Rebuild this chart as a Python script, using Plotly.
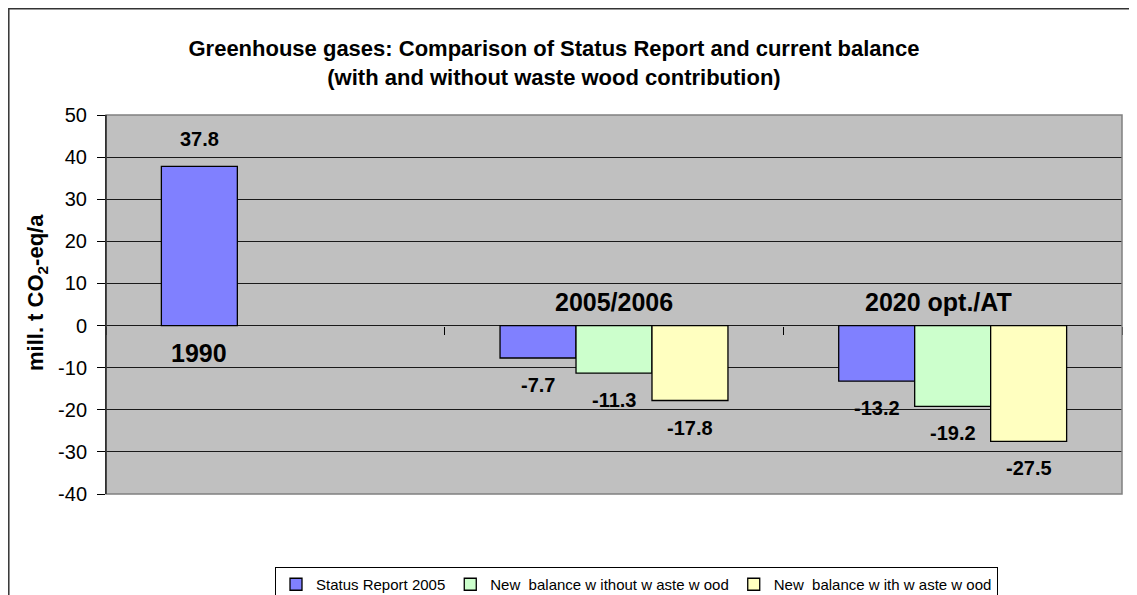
import plotly.graph_objects as go

categories = ["1990", "2005/2006", "2020 opt./AT"]
series_names = ["Status Report 2005", "New  balance w ithout w aste w ood", "New  balance w ith w aste w ood"]
status_report = [37.8, -7.7, -13.2]
without_waste = [None, -11.3, -19.2]
with_waste = [None, -17.8, -27.5]
y_ticks = [50, 40, 30, 20, 10, 0, -10, -20, -30, -40]
y_tick_labels = ["50", "40", "30", "20", "10", "0", "-10", "-20", "-30", "-40"]

colors = ["#8080FF", "#CCFFCC", "#FFFFC0"]
series = [status_report, without_waste, with_waste]

# page offset (browser body margin)
OFF = 8
PAGE_W, PAGE_H = 1137, 595
W, H = PAGE_W - OFF, PAGE_H - OFF
# plot area in page pixels
PX0, PX1, PY0, PY1 = 106, 1122, 115, 494
L, R, T, B = PX0 - OFF, PAGE_W - PX1, PY0 - OFF, PAGE_H - PY1
pw, ph = PX1 - PX0, PY1 - PY0

def px_x(p):
    return (p - PX0) / pw

def px_y(p):
    return (PY1 - p) / ph

def cx(p):
    return (p - OFF) / W

def cy(p):
    return 1 - (p - OFF) / H

FONT = "Liberation Sans, Arial, sans-serif"

fig = go.Figure()
for name, vals, col in zip(series_names, series, colors):
    fig.add_trace(go.Bar(
        x=categories, y=vals, name=name,
        marker=dict(color=col, line=dict(color="black", width=1.3)),
        hoverinfo="skip",
    ))

bar_w = pw / 3 * (1 - 0.327) / 3
offsets = [-bar_w, 0, bar_w]
annotations = []
lab_font = dict(family=FONT, size=20, color="black")
for vals, off in zip(series, offsets):
    for i, v in enumerate(vals):
        if v is None:
            continue
        annotations.append(dict(
            x=i, y=v, xref="x", yref="y", text=f"<b>{v:.1f}</b>",
            showarrow=False, xshift=off, yshift=27 if v > 0 else -27,
            yanchor="middle", font=lab_font,
        ))

cat_font = dict(family=FONT, size=25, color="black")
cat_pos = [(-bar_w, -27), (0, 24), (-14, 24)]
for i, (c, (xs, ys)) in enumerate(zip(categories, cat_pos)):
    annotations.append(dict(
        x=i, y=0, xref="x", yref="y", text=f"<b>{c}</b>",
        showarrow=False, xshift=xs, yshift=ys, yanchor="middle", font=cat_font,
    ))

# y-axis title
annotations.append(dict(
    x=px_x(37), y=px_y(293), xref="paper", yref="paper",
    text="<b>mill. t CO<sub>2</sub>-eq/a</b>", textangle=-90,
    showarrow=False, xanchor="center", yanchor="middle",
    font=dict(family=FONT, size=22, color="black"),
))

fig.update_layout(
    width=W, height=H,
    margin=dict(l=L, r=R, t=T, b=B, autoexpand=False),
    paper_bgcolor="white", plot_bgcolor="#C0C0C0",
    barmode="group", bargap=0.327, bargroupgap=0,
    title=dict(
        text="<b>Greenhouse gases: Comparison of Status Report and current balance<br>(with and without waste wood contribution)</b>",
        x=cx(554), xanchor="center", xref="container",
        y=cy(56), yanchor="middle", yref="container",
        font=dict(family=FONT, size=22, color="black"),
    ),
    font=dict(family=FONT, color="black"),
    xaxis=dict(
        type="category", range=[-0.5, 2.5], showticklabels=False, showgrid=False,
        showline=False, ticks="outside", tickson="boundaries", ticklen=8,
        tickcolor="black", anchor="free", position=40 / 90, zeroline=False,
        fixedrange=True,
    ),
    yaxis=dict(
        range=[-40, 50], tickvals=y_ticks, ticktext=y_tick_labels,
        ticks="outside", ticklen=8,
        tickcolor="black", showline=True, linecolor="black", linewidth=1,
        showgrid=True, gridcolor="#1a1a1a", gridwidth=1, zeroline=False,
        tickfont=dict(family=FONT, size=20, color="black"),
        ticklabelstandoff=6, fixedrange=True,
    ),
    legend=dict(
        orientation="h", xref="container", yref="container",
        x=cx(275), y=cy(567), xanchor="left", yanchor="top",
        bordercolor="black", borderwidth=1, bgcolor="white",
        font=dict(family=FONT, size=15, color="black"),
        traceorder="normal",
    ),
    annotations=annotations,
    shapes=[
        dict(type="rect", xref="paper", yref="paper", x0=0, x1=1, y0=0, y1=1,
             line=dict(color="#808080", width=1.5), layer="above"),
        dict(type="rect", xref="paper", yref="paper",
             x0=px_x(OFF + 0.8), x1=px_x(1131), y0=px_y(620), y1=px_y(OFF + 0.8),
             line=dict(color="#333333", width=1.5), layer="below"),
        dict(type="line", xref="paper", yref="paper", x0=0, x1=0, y0=0, y1=1,
             line=dict(color="black", width=1), layer="above"),
    ],
)

fig.write_html("out.html")
